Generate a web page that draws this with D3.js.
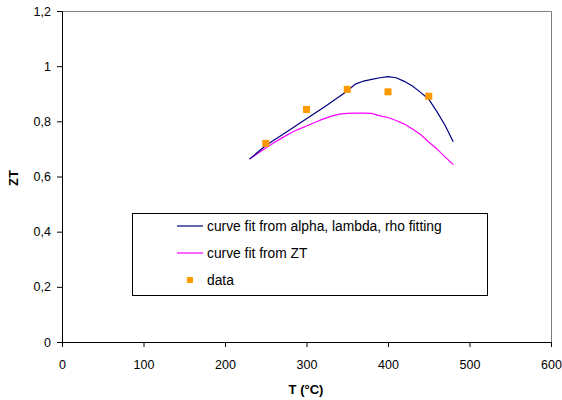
<!DOCTYPE html>
<html>
<head>
<meta charset="utf-8">
<script src="https://cdn.jsdelivr.net/npm/d3@7"></script>
<style>
  body { margin: 0; background: #fff; }
  text { font-family: "Liberation Sans", Arial, sans-serif; }
</style>
</head>
<body>
<div id="chart"></div>
<script>
// curve fit from alpha, lambda, rho fitting
const fitT = [230, 250, 275, 300, 325, 350, 360, 370, 380, 390, 400, 410, 420, 430, 440, 450, 460, 470, 480];
const fitZT = [0.663, 0.712, 0.760, 0.809, 0.858, 0.910, 0.935, 0.946, 0.952, 0.958, 0.962, 0.958, 0.945, 0.928, 0.905, 0.880, 0.835, 0.786, 0.726];

// curve fit from ZT
const ztT = [230, 240, 250, 260, 270, 280, 290, 300, 310, 320, 330, 340, 350, 360, 370, 380, 390, 400, 410, 420, 430, 440, 450, 460, 470, 480];
const ztZT = [0.663, 0.683, 0.703, 0.722, 0.740, 0.757, 0.771, 0.783, 0.796, 0.808, 0.818, 0.826, 0.829, 0.830, 0.830, 0.829, 0.820, 0.814, 0.803, 0.790, 0.772, 0.752, 0.725, 0.700, 0.671, 0.643];

// measured data
const dataT = [250, 300, 350, 400, 450];
const dataZT = [0.72, 0.843, 0.916, 0.907, 0.891];

const xTicks = [0, 100, 200, 300, 400, 500, 600];
const yTicks = [0, 0.2, 0.4, 0.6, 0.8, 1, 1.2];

const legendLabels = ["curve fit from alpha, lambda, rho fitting", "curve fit from ZT", "data"];
const colors = ["#000080", "#ff00ff", "#ff9900"];

const width = 562, height = 400;
const plotL = 62, plotR = 551, plotT = 11, plotB = 342;

const svg = d3.select("#chart").append("svg")
  .attr("width", width)
  .attr("height", height);

const x = d3.scaleLinear().domain([0, 600]).range([plotL, plotR]);
const y = d3.scaleLinear().domain([0, 1.2]).range([plotB, plotT]);

// plot area border (top and right, grey)
svg.append("path")
  .attr("d", `M${plotL},${plotT + 0.5}H${plotR + 0.5}V${plotB}`)
  .attr("fill", "none")
  .attr("stroke", "#808080")
  .attr("stroke-width", 1);

const fmt = d => String(d).replace(".", ",");

const xAxis = svg.append("g")
  .attr("transform", `translate(0,${plotB})`)
  .call(d3.axisBottom(x).tickValues(xTicks).tickSize(5).tickFormat(fmt));
const yAxis = svg.append("g")
  .attr("transform", `translate(${plotL},0)`)
  .call(d3.axisLeft(y).tickValues(yTicks).tickSize(5).tickFormat(fmt));

[xAxis, yAxis].forEach(a => {
  a.select(".domain").attr("stroke", "#000");
  a.selectAll(".tick line").attr("stroke", "#000");
  a.selectAll("text").attr("font-size", 12.5).attr("fill", "#000")
    .style("font-family", "'Liberation Sans', Arial, sans-serif");
});
xAxis.selectAll("text").attr("dy", "1.5em");
yAxis.selectAll("text").attr("x", -11);

// axis titles
svg.append("text")
  .attr("x", 306).attr("y", 394)
  .attr("text-anchor", "middle")
  .attr("font-size", 13).attr("font-weight", "bold")
  .text("T (°C)");
svg.append("text")
  .attr("transform", "translate(18,178) rotate(-90)")
  .attr("text-anchor", "middle")
  .attr("font-size", 13).attr("font-weight", "bold")
  .text("ZT");

const line = d3.line().x(d => x(d[0])).y(d => y(d[1]));

svg.append("path")
  .datum(d3.zip(ztT, ztZT))
  .attr("d", line)
  .attr("fill", "none")
  .attr("stroke", colors[1])
  .attr("stroke-width", 1.2);

svg.append("path")
  .datum(d3.zip(fitT, fitZT))
  .attr("d", line)
  .attr("fill", "none")
  .attr("stroke", colors[0])
  .attr("stroke-width", 1.2);

svg.selectAll("rect.pt")
  .data(d3.zip(dataT, dataZT))
  .enter()
  .append("rect")
  .attr("class", "pt")
  .attr("x", d => x(d[0]) - 3.5)
  .attr("y", d => y(d[1]) - 3.5)
  .attr("width", 7)
  .attr("height", 7)
  .attr("fill", colors[2]);

// legend
const legend = svg.append("g");
legend.append("rect")
  .attr("x", 132.5).attr("y", 213.5)
  .attr("width", 355).attr("height", 82)
  .attr("fill", "#fff")
  .attr("stroke", "#000");

const rowY = [226, 253, 280];
legendLabels.forEach((label, i) => {
  if (i < 2) {
    legend.append("line")
      .attr("x1", 177).attr("x2", 203)
      .attr("y1", rowY[i]).attr("y2", rowY[i])
      .attr("stroke", colors[i])
      .attr("stroke-width", 1.2);
  } else {
    legend.append("rect")
      .attr("x", 187).attr("y", rowY[i] - 3)
      .attr("width", 6).attr("height", 6)
      .attr("fill", colors[i]);
  }
  legend.append("text")
    .attr("x", 207).attr("y", rowY[i])
    .attr("dy", "0.35em")
    .attr("font-size", 13.8)
    .text(label);
});
</script>
</body>
</html>
